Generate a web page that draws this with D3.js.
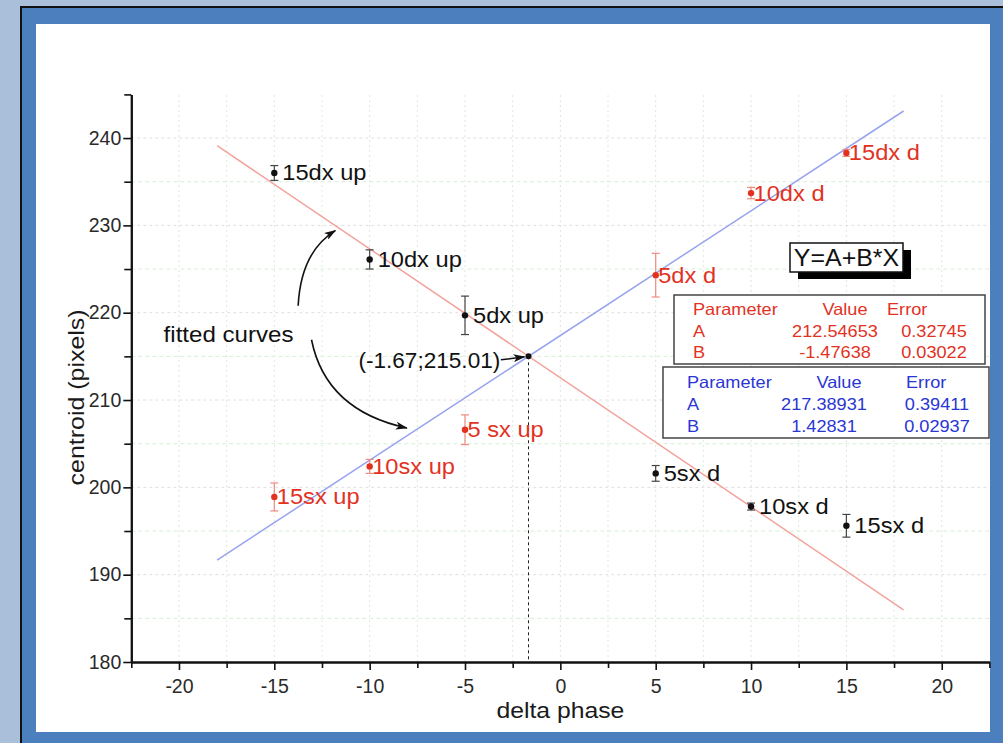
<!DOCTYPE html>
<html>
<head>
<meta charset="utf-8">
<script src="https://cdn.jsdelivr.net/npm/d3@7"></script>
<style>
  html, body { margin: 0; padding: 0; background: #aabfd9; }
  svg { display: block; }
  text { font-family: Arial, "Liberation Sans", sans-serif; }
</style>
</head>
<body>
<svg id="chart" width="1003" height="743"></svg>
<script>
// ---- data -------------------------------------------------------------
// black points (fitted by the red line)
const blackLabels = ["15dx up", "10dx up", "5dx up", "5sx d", "10sx d", "15sx d"];
const blackX      = [-15, -10, -5, 5, 10, 15];
const blackY      = [236.0, 226.1, 219.7, 201.6, 197.8, 195.6];
const blackErr    = [0.85, 1.1, 2.2, 0.9, 0.4, 1.3];

// red points (fitted by the blue line)
const redLabels = ["15sx up", "10sx up", "5 sx up", "5dx d", "10dx d", "15dx d"];
const redX      = [-15, -10, -5, 5, 10, 15];
const redY      = [198.9, 202.4, 206.6, 224.3, 233.7, 238.3];
const redErr    = [1.6, 0.8, 1.7, 2.5, 0.65, 0.4];

// linear fits Y = A + B*X
const fitNames   = ["A", "B"];
const redFit     = [212.54653, -1.47638];
const redFitErr  = [0.32745, 0.03022];
const blueFit    = [217.38931, 1.42831];
const blueFitErr = [0.39411, 0.02937];
const fitRange   = [-18, 18];

// crossing point of the two fits
const crossX = -1.67, crossY = 215.01;
const crossLabel = "(-1.67;215.01)";

// axes
const xDomain = [-22.5, 22.5];
const yDomain = [180, 245];
const xMajor = [-20, -15, -10, -5, 0, 5, 10, 15, 20];
const xMinor = [-22.5, -17.5, -12.5, -7.5, -2.5, 2.5, 7.5, 12.5, 17.5, 22.5];
const yMajor = [180, 190, 200, 210, 220, 230, 240];
const yMinor = [185, 195, 205, 215, 225, 235, 245];

// ---- layout -------------------------------------------------------------
const svg = d3.select("#chart");
const RED = "#e2321f", BLUE = "#2a36d4";
const RED_LINE = "#f2a39c", BLUE_LINE = "#97a3ef";

const x = d3.scaleLinear().domain(xDomain).range([131.3, 989.4]);
const y = d3.scaleLinear().domain(yDomain).range([662, 94.4]);

// widen text horizontally by factor k
function stretch(sel, k) {
  sel.each(function () {
    const w = this.getComputedTextLength();
    d3.select(this).attr("textLength", w * k).attr("lengthAdjust", "spacingAndGlyphs");
  });
  return sel;
}

// ---- frame ------------------------------------------------------------
svg.append("rect").attr("x", 0).attr("y", 0).attr("width", 1003).attr("height", 743).attr("fill", "#aabfd9");
svg.append("rect").attr("x", 20).attr("y", 6).attr("width", 983).attr("height", 737).attr("fill", "#111");
svg.append("rect").attr("x", 22).attr("y", 8).attr("width", 981).attr("height", 735).attr("fill", "#4c7fbd");
svg.append("rect").attr("x", 36).attr("y", 24).attr("width", 954).attr("height", 708).attr("fill", "#ffffff");

// ---- grid -------------------------------------------------------------
const grid = svg.append("g");
grid.selectAll(".gxM").data(xMajor).join("line")
  .attr("x1", d => x(d)).attr("x2", d => x(d)).attr("y1", y(yDomain[0])).attr("y2", y(yDomain[1]))
  .attr("stroke", "#e2e2e2").attr("stroke-width", 1).attr("stroke-dasharray", "2,3");
grid.selectAll(".gxm").data(xMinor.slice(1, -1)).join("line")
  .attr("x1", d => x(d)).attr("x2", d => x(d)).attr("y1", y(yDomain[0])).attr("y2", y(yDomain[1]))
  .attr("stroke", "#d8f0d8").attr("stroke-width", 1).attr("stroke-dasharray", "2,3");
grid.selectAll(".gyM").data(yMajor.slice(1)).join("line")
  .attr("y1", d => y(d)).attr("y2", d => y(d)).attr("x1", x(xDomain[0])).attr("x2", x(xDomain[1]))
  .attr("stroke", "#e4dede").attr("stroke-width", 1).attr("stroke-dasharray", "3,3");
grid.selectAll(".gym").data(yMinor.slice(0, -1)).join("line")
  .attr("y1", d => y(d)).attr("y2", d => y(d)).attr("x1", x(xDomain[0])).attr("x2", x(xDomain[1]))
  .attr("stroke", "#d8eed8").attr("stroke-width", 1).attr("stroke-dasharray", "4,3");

// ---- axes -------------------------------------------------------------
function styleAxis(g) {
  g.select(".domain").attr("stroke", "#111").attr("stroke-width", 2);
  g.selectAll(".tick line").attr("stroke", "#111").attr("stroke-width", 1.6);
  g.selectAll(".tick text").attr("fill", "#2a2a2a").attr("font-size", 19.5)
    .attr("font-family", "Arial, 'Liberation Sans', sans-serif");
}
const xAxisMinor = d3.axisBottom(x).tickValues(xMinor).tickSize(6).tickFormat("").tickSizeOuter(0);
const xAxis = d3.axisBottom(x).tickValues(xMajor).tickSize(8).tickPadding(9).tickSizeOuter(0)
  .tickFormat(d => d3.format("d")(d).replace("\u2212", "-"));
svg.append("g").attr("transform", `translate(0,${y(yDomain[0])})`).call(xAxisMinor).call(styleAxis);
svg.append("g").attr("transform", `translate(0,${y(yDomain[0])})`).call(xAxis).call(styleAxis);

const yAxisMinor = d3.axisLeft(y).tickValues(yMinor).tickSize(7).tickFormat("").tickSizeOuter(0);
const yAxis = d3.axisLeft(y).tickValues(yMajor).tickSize(8).tickPadding(2).tickSizeOuter(0);
svg.append("g").attr("transform", `translate(${x(xDomain[0])},0)`).call(yAxisMinor).call(styleAxis);
svg.append("g").attr("transform", `translate(${x(xDomain[0])},0)`).call(yAxis).call(styleAxis);

// axis titles
stretch(svg.append("text").attr("x", x(0)).attr("y", 718).attr("text-anchor", "middle")
  .attr("font-size", 21.5).attr("fill", "#1a1a1a").text("delta phase"), 1.15);
stretch(svg.append("text").attr("transform", `translate(84,${y(210.3)}) rotate(-90)`)
  .attr("text-anchor", "middle").attr("font-size", 21.5).attr("fill", "#1a1a1a")
  .text("centroid (pixels)"), 1.16);

// ---- fitted lines -------------------------------------------------------
const fitLine = p => d3.line().x(d => x(d)).y(d => y(p[0] + p[1] * d));
svg.append("path").datum(fitRange).attr("d", fitLine(redFit))
  .attr("fill", "none").attr("stroke", RED_LINE).attr("stroke-width", 1.5);
svg.append("path").datum(fitRange).attr("d", fitLine(blueFit))
  .attr("fill", "none").attr("stroke", BLUE_LINE).attr("stroke-width", 1.5);

// drop line from the crossing point to the x axis
svg.append("line").attr("x1", x(crossX)).attr("x2", x(crossX))
  .attr("y1", y(crossY)).attr("y2", y(yDomain[0]))
  .attr("stroke", "#222").attr("stroke-width", 1).attr("stroke-dasharray", "3,3");

// ---- points with error bars --------------------------------------------
function drawSeries(xs, ys, es, labels, color, barColor, labelDx) {
  const data = xs.map((v, i) => ({ x: v, y: ys[i], e: es[i], label: labels[i] }));
  const g = svg.append("g");
  const bars = g.selectAll(".bar").data(data).join("g");
  bars.append("line").attr("x1", d => x(d.x)).attr("x2", d => x(d.x))
    .attr("y1", d => y(d.y - d.e)).attr("y2", d => y(d.y + d.e))
    .attr("stroke", barColor).attr("stroke-width", 1.2);
  [-1, 1].forEach(s => {
    bars.append("line").attr("x1", d => x(d.x) - 4).attr("x2", d => x(d.x) + 4)
      .attr("y1", d => y(d.y + s * d.e)).attr("y2", d => y(d.y + s * d.e))
      .attr("stroke", barColor).attr("stroke-width", 1.2);
  });
  g.selectAll(".pt").data(data).join("circle")
    .attr("cx", d => x(d.x)).attr("cy", d => y(d.y)).attr("r", 3.2).attr("fill", color);
  g.selectAll(".lbl").data(data).join("text")
    .attr("x", d => x(d.x) + labelDx).attr("y", d => y(d.y) + 7.5)
    .attr("font-size", 21.5).attr("fill", color).text(d => d.label)
    .call(stretch, 1.1);
}
drawSeries(blackX, blackY, blackErr, blackLabels, "#111", "#444", 8);
drawSeries(redX, redY, redErr, redLabels, RED, "#ef8a80", 2.5);

// crossing point
svg.append("circle").attr("cx", x(crossX)).attr("cy", y(crossY)).attr("r", 3).attr("fill", "#111");

// ---- annotations ------------------------------------------------------
const defs = svg.append("defs");
defs.append("marker").attr("id", "head").attr("viewBox", "0 0 12 8")
  .attr("refX", 11).attr("refY", 4).attr("markerWidth", 12).attr("markerHeight", 8)
  .attr("markerUnits", "userSpaceOnUse").attr("orient", "auto")
  .append("path").attr("d", "M0,0 L12,4 L0,8 L3,4 Z").attr("fill", "#111");

// curved arrows in data coordinates: [start, control, end]
const upperArrow = [[-13.75, 220.8], [-13.6, 227.0], [-11.8, 229.4]];
const lowerArrow = [[-13.05, 216.9], [-12.3, 208.8], [-8.05, 206.8]];
function quad(p) {
  const [a, c, b] = p.map(d => [x(d[0]), y(d[1])]);
  return `M${a[0]},${a[1]} Q${c[0]},${c[1]} ${b[0]},${b[1]}`;
}
[upperArrow, lowerArrow].forEach(p => {
  svg.append("path").attr("d", quad(p)).attr("fill", "none")
    .attr("stroke", "#111").attr("stroke-width", 1.6).attr("marker-end", "url(#head)");
});
stretch(svg.append("text").attr("x", x(-17.4)).attr("y", y(216.67)).attr("text-anchor", "middle")
  .attr("font-size", 21.5).attr("fill", "#111").text("fitted curves"), 1.12);

// label for the crossing point with its short arrow
stretch(svg.append("text").attr("x", x(-3.15)).attr("y", y(crossY) + 12).attr("text-anchor", "end")
  .attr("font-size", 21.5).attr("fill", "#111").text(crossLabel), 1.05);
svg.append("path")
  .attr("d", `M${x(-3.12)},${y(214.6)} L${x(-1.88)},${y(214.95)}`)
  .attr("stroke", "#111").attr("stroke-width", 1.5).attr("marker-end", "url(#head)");

// ---- fit parameter boxes -------------------------------------------------
svg.append("rect").attr("x", 798).attr("y", 250).attr("width", 113).attr("height", 29).attr("fill", "#000");
svg.append("rect").attr("x", 790).attr("y", 243).attr("width", 113).attr("height", 29)
  .attr("fill", "#fff").attr("stroke", "#111").attr("stroke-width", 1.5);
stretch(svg.append("text").attr("x", 846.5).attr("y", 266).attr("text-anchor", "middle")
  .attr("font-size", 23.5).attr("fill", "#111").text("Y=A+B*X"), 1.06);

function fitTable(box, rows, cols, fit, fitErr, color) {
  svg.append("rect").attr("x", box[0]).attr("y", box[1]).attr("width", box[2]).attr("height", box[3])
    .attr("fill", "#fff").attr("stroke", "#444").attr("stroke-width", 1.5);
  const g = svg.append("g").attr("fill", color).attr("font-size", 16.5);
  const put = (tx, ty, anchor, s) =>
    stretch(g.append("text").attr("x", tx).attr("y", ty).attr("text-anchor", anchor).text(s), 1.1);
  put(cols[0], rows[0], "start", "Parameter");
  put(cols[1], rows[0], "middle", "Value");
  put(cols[2], rows[0], "start", "Error");
  fitNames.forEach((n, i) => {
    put(cols[0], rows[i + 1], "start", n);
    put(cols[3], rows[i + 1], "middle", fit[i].toFixed(5));
    put(cols[4], rows[i + 1], "middle", fitErr[i].toFixed(5));
  });
}
fitTable([674, 295, 311, 69], [315, 337, 358], [693, 845, 887, 835, 934], redFit, redFitErr, RED);
fitTable([663, 367, 326, 71], [388, 410, 431.5], [687, 839, 906, 824, 937], blueFit, blueFitErr, BLUE);
</script>
</body>
</html>
